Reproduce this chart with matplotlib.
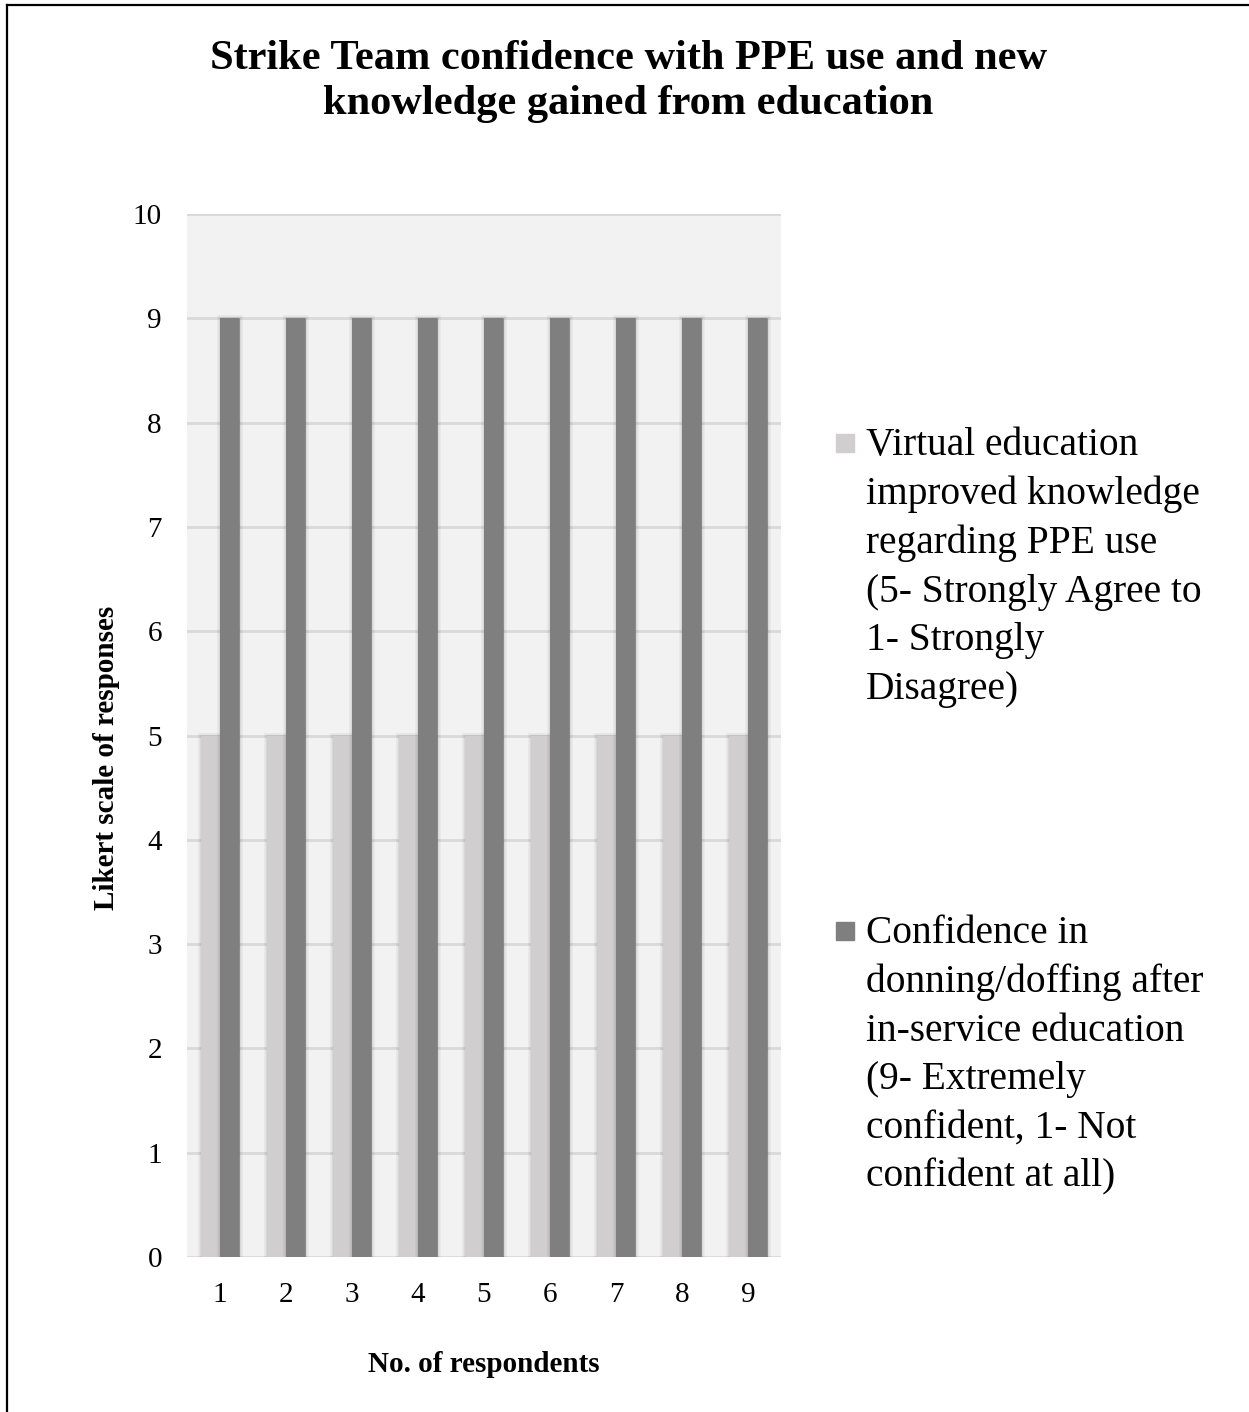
import matplotlib
matplotlib.use("Agg")
import matplotlib.pyplot as plt
import matplotlib.patheffects as pe
from matplotlib.lines import Line2D
from matplotlib.patches import Rectangle
import numpy as np

# Data
respondents = [1, 2, 3, 4, 5, 6, 7, 8, 9]
knowledge_scores = [5, 5, 5, 5, 5, 5, 5, 5, 5]
confidence_scores = [9, 9, 9, 9, 9, 9, 9, 9, 9]
series_labels = [
    "Virtual education\nimproved knowledge\nregarding PPE use\n(5- Strongly Agree to\n1- Strongly\nDisagree)",
    "Confidence in\ndonning/doffing after\nin-service education\n(9- Extremely\nconfident, 1- Not\nconfident at all)",
]
series_colors = ["#d0cece", "#7f7f7f"]
title = "Strike Team confidence with PPE use and new\nknowledge gained from education"
xlabel = "No. of respondents"
ylabel = "Likert scale of responses"

plt.rcParams["font.family"] = ["Liberation Serif", "DejaVu Serif"]

W, H = 1249, 1412
fig = plt.figure(figsize=(W / 100, H / 100), dpi=100)
fig.patch.set_facecolor("white")

ax = fig.add_axes([187 / W, 1 - 1257 / H, (781 - 187) / W, (1257 - 214) / H])
ax.set_facecolor("#f2f2f2")

x = np.array(respondents, dtype=float)
bw = 0.29
shadow = [pe.Stroke(linewidth=5, foreground=(0, 0, 0, 0.04)),
          pe.Stroke(linewidth=2.5, foreground=(0, 0, 0, 0.07)),
          pe.Normal()]
b1 = ax.bar(x - bw / 2, knowledge_scores, width=bw, color=series_colors[0],
            zorder=3, linewidth=0)
b2 = ax.bar(x + bw / 2, confidence_scores, width=bw, color=series_colors[1],
            zorder=3, linewidth=0)
for bars in (b1, b2):
    for p in bars:
        p.set_path_effects(shadow)

ax.set_xlim(0.5, 9.5)
ax.set_ylim(0, 10)
ax.set_yticks(range(0, 11))
ax.set_xticks(x)
ax.set_xticklabels([str(r) for r in respondents])
ax.yaxis.grid(True, color="#d9d9d9", linewidth=2, zorder=0)
ax.set_axisbelow(True)
for s in ax.spines.values():
    s.set_visible(False)
ax.tick_params(axis="both", length=0, labelsize=21, colors="black")
ax.tick_params(axis="y", pad=18)
ax.tick_params(axis="x", pad=18)

ax.set_xlabel(xlabel, fontsize=21, fontweight="bold", labelpad=31)
ax.set_ylabel(ylabel, fontsize=21, fontweight="bold")
ax.yaxis.set_label_coords(-0.112, 0.479)

fig.text(0.503, 1 - 40 / H, title, ha="center", va="top", fontsize=30.5,
         fontweight="bold", linespacing=1.23)

# Legend drawn as squares with wrapped labels
leg_tops = [427, 915]
for lab, col, ty in zip(series_labels, series_colors, leg_tops):
    sq = 18
    fig.patches.append(Rectangle((836 / W, 1 - (ty + 7 + sq) / H), sq / W, sq / H,
                                 transform=fig.transFigure, color=col))
    fig.text(866 / W, 1 - ty / H, lab, ha="left", va="top", fontsize=28.4,
             linespacing=1.41)

# Frame lines along the top and left edges
fig.add_artist(Line2D([7 / W, 7 / W], [0, 1 - 5 / H], transform=fig.transFigure,
                      color="black", linewidth=1.6))
fig.add_artist(Line2D([7 / W, 1], [1 - 5 / H, 1 - 5 / H], transform=fig.transFigure,
                      color="black", linewidth=1.6))

fig.savefig("out.png", dpi=100)
